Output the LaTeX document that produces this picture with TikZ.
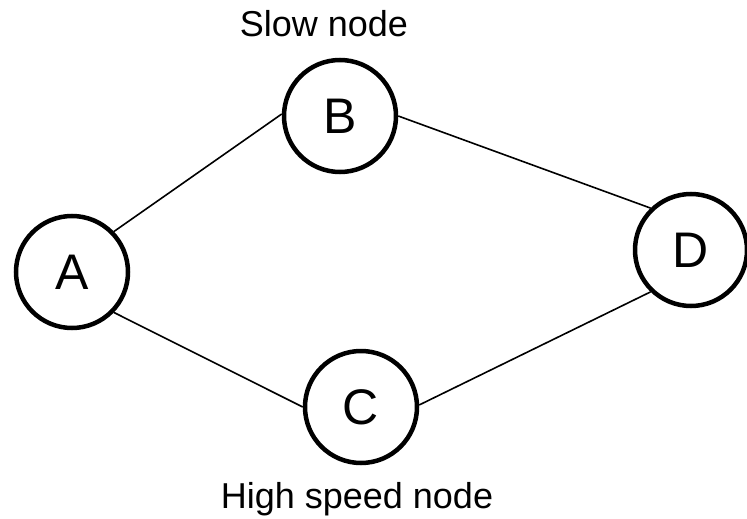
\documentclass[tikz,border=0pt]{standalone}
\usepackage{fontspec}
\setmainfont{Liberation Sans}
\usepackage{tikz}

\begin{document}
\begin{tikzpicture}[x=1pt, y=-1pt,
  every node/.style={inner sep=0pt},
  peer/.style={circle, draw, line width=4.5pt, minimum size=112pt, font=\fontsize{50}{52}\selectfont},
  caption/.style={font=\fontsize{36}{39}\selectfont, anchor=base},
  link/.style={line width=1.6pt}]
\useasboundingbox (0,0) rectangle (747,519);
\node[peer] (A) at (72,272) {A};
\node[peer] (B) at (340,116) {B};
\node[peer] (C) at (361,407) {C};
\node[peer] (D) at (691,250) {D};

\node[caption] (slow) at (324,37) {Slow node};
\node[caption] (fast) at (357,508) {High speed node};

\draw[link] (A.44) -- (B.178);
\draw[link] (B.0) -- (D.134);
\draw[link] (A.-44) -- (C.180);
\draw[link] (C.2) -- (D.226);
\end{tikzpicture}
\end{document}
